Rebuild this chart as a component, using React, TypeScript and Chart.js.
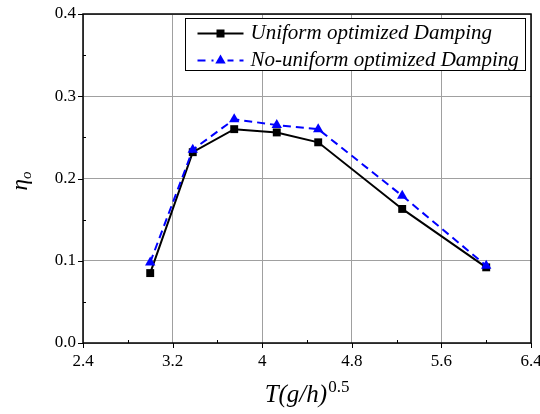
import React, { useEffect, useRef } from 'react';
import { Chart, registerables } from 'chart.js';

Chart.register(...registerables);

// ---- data ----
const xValues = [3.0, 3.38, 3.75, 4.13, 4.5, 5.25, 6.0];
const uniformValues = [0.085, 0.232, 0.26, 0.256, 0.244, 0.163, 0.092];
const nonUniformValues = [0.098, 0.235, 0.272, 0.265, 0.26, 0.179, 0.094];
const seriesNames = ['Uniform optimized Damping', 'No-uniform optimized Damping'];
const xTicks = [2.4, 3.2, 4.0, 4.8, 5.6, 6.4];
const xMinorTicks = [2.8, 3.6, 4.4, 5.2, 6.0];
const yTicks = [0.0, 0.1, 0.2, 0.3, 0.4];
const yMinorTicks = [0.05, 0.15, 0.25, 0.35];
const xTitleMain = 'T(g/h)';
const xTitleSup = '0.5';
const yTitleMain = 'η';
const yTitleSub = 'o';

const SERIF = '"Liberation Serif", "Times New Roman", serif';

const framePlugin = {
  id: 'frame',
  afterDraw(chart: any) {
    const { ctx, chartArea: a, scales } = chart;
    const x = scales.x;
    const y = scales.y;
    ctx.save();
    // frame
    ctx.strokeStyle = '#000';
    ctx.lineWidth = 1.5;
    ctx.strokeRect(a.left, a.top, a.right - a.left, a.bottom - a.top);
    // ticks
    ctx.lineWidth = 1;
    ctx.beginPath();
    xTicks.forEach((v) => {
      const px = Math.round(x.getPixelForValue(v)) + 0.5;
      ctx.moveTo(px, a.bottom);
      ctx.lineTo(px, a.bottom + 5);
    });
    xMinorTicks.forEach((v) => {
      const px = Math.round(x.getPixelForValue(v)) + 0.5;
      ctx.moveTo(px, a.bottom);
      ctx.lineTo(px, a.bottom - 3);
    });
    yTicks.forEach((v) => {
      const py = Math.round(y.getPixelForValue(v)) + 0.5;
      ctx.moveTo(a.left - 5, py);
      ctx.lineTo(a.left, py);
    });
    yMinorTicks.forEach((v) => {
      const py = Math.round(y.getPixelForValue(v)) + 0.5;
      ctx.moveTo(a.left, py);
      ctx.lineTo(a.left + 3, py);
    });
    ctx.stroke();

    ctx.fillStyle = '#000';
    ctx.textBaseline = 'alphabetic';
    ctx.textAlign = 'left';
    // x title
    const mainFont = `italic 25px ${SERIF}`;
    const supFont = `17px ${SERIF}`;
    ctx.font = mainFont;
    const w1 = ctx.measureText(xTitleMain).width;
    ctx.font = supFont;
    const w2 = ctx.measureText(xTitleSup).width;
    const cx = (a.left + a.right) / 2;
    const sx = cx - (w1 + w2 + 1) / 2;
    ctx.font = mainFont;
    ctx.fillText(xTitleMain, sx, 402);
    ctx.font = supFont;
    ctx.fillText(xTitleSup, sx + w1 + 1, 392);

    // y title
    ctx.save();
    ctx.translate(27, 181);
    ctx.rotate(-Math.PI / 2);
    const yMain = `italic 23px ${SERIF}`;
    const ySub = `italic 15px ${SERIF}`;
    ctx.font = yMain;
    const yw1 = ctx.measureText(yTitleMain).width;
    ctx.font = ySub;
    const yw2 = ctx.measureText(yTitleSub).width;
    const ys = -(yw1 + yw2) / 2;
    ctx.font = yMain;
    ctx.fillText(yTitleMain, ys, 0);
    ctx.font = ySub;
    ctx.fillText(yTitleSub, ys + yw1, 4);
    ctx.restore();

    // legend
    const bw = 340;
    const bh = 52;
    const bx = Math.round(a.right - 6 - bw) + 0.5;
    const by = Math.round(a.top + 4) + 0.5;
    ctx.fillStyle = '#fff';
    ctx.fillRect(bx, by, bw, bh);
    ctx.strokeStyle = '#000';
    ctx.lineWidth = 1;
    ctx.strokeRect(bx, by, bw, bh);
    const rows = [by + 15, by + 42];
    // row 1
    ctx.strokeStyle = '#000';
    ctx.lineWidth = 2;
    ctx.setLineDash([]);
    ctx.beginPath();
    ctx.moveTo(bx + 12, rows[0]);
    ctx.lineTo(bx + 58, rows[0]);
    ctx.stroke();
    ctx.fillStyle = '#000';
    ctx.fillRect(bx + 35 - 4, rows[0] - 4, 8, 8);
    // row 2
    ctx.strokeStyle = '#0000ff';
    ctx.setLineDash([8, 6]);
    ctx.beginPath();
    ctx.moveTo(bx + 12, rows[1]);
    ctx.lineTo(bx + 58, rows[1]);
    ctx.stroke();
    ctx.setLineDash([]);
    ctx.fillStyle = '#fff';
    ctx.fillRect(bx + 28, rows[1] - 7, 14, 12);
    ctx.fillStyle = '#0000ff';
    const r = 6;
    ctx.beginPath();
    ctx.moveTo(bx + 35, rows[1] - r);
    ctx.lineTo(bx + 35 + r * 0.866, rows[1] + r / 2);
    ctx.lineTo(bx + 35 - r * 0.866, rows[1] + r / 2);
    ctx.closePath();
    ctx.fill();
    // texts
    ctx.fillStyle = '#000';
    ctx.font = `italic 21px ${SERIF}`;
    ctx.textBaseline = 'middle';
    ctx.fillText(seriesNames[0], bx + 65, rows[0]);
    ctx.fillText(seriesNames[1], bx + 65, rows[1]);
    ctx.restore();
  },
};

export default function App() {
  const ref = useRef<HTMLCanvasElement | null>(null);
  useEffect(() => {
    document.body.style.margin = '0';
    const canvas = ref.current;
    if (!canvas) return;
    const chart = new Chart(canvas, {
      type: 'line',
      data: {
        datasets: [
          {
            label: seriesNames[0],
            data: xValues.map((x, i) => ({ x, y: uniformValues[i] })),
            borderColor: '#000',
            backgroundColor: '#000',
            borderWidth: 2,
            pointStyle: 'rect',
            pointRadius: 5.6,
            pointBorderWidth: 0,
            tension: 0,
            order: 1,
          },
          {
            label: seriesNames[1],
            data: xValues.map((x, i) => ({ x, y: nonUniformValues[i] })),
            borderColor: '#0000ff',
            backgroundColor: '#0000ff',
            borderWidth: 2,
            borderDash: [8, 5],
            pointStyle: 'triangle',
            pointRadius: 6,
            pointBorderWidth: 0,
            tension: 0,
            order: 0,
          },
        ],
      },
      options: {
        responsive: false,
        animation: false,
        layout: { padding: { left: 0, right: 9, top: 14, bottom: 0 } },
        plugins: {
          legend: { display: false },
          tooltip: { enabled: false },
          title: { display: false },
        },
        scales: {
          x: {
            type: 'linear',
            min: 2.4,
            max: 6.4,
            afterBuildTicks: (axis: any) => {
              axis.ticks = xTicks.map((v) => ({ value: v }));
            },
            afterFit: (axis: any) => {
              axis.height = 71;
              axis.paddingLeft = 0;
              axis.paddingRight = 0;
            },
            grid: { color: '#a0a0a0', lineWidth: 1, drawTicks: false },
            border: { display: false },
            ticks: {
              color: '#000',
              font: { family: SERIF, size: 17 },
              padding: 8,
              maxRotation: 0,
              autoSkip: false,
              callback: (v: any) => String(Math.round(Number(v) * 10) / 10),
            },
          },
          y: {
            type: 'linear',
            min: 0,
            max: 0.4,
            afterBuildTicks: (axis: any) => {
              axis.ticks = yTicks.map((v) => ({ value: v }));
            },
            afterFit: (axis: any) => {
              axis.width = 83;
              axis.paddingTop = 0;
              axis.paddingBottom = 0;
            },
            grid: { color: '#a0a0a0', lineWidth: 1, drawTicks: false },
            border: { display: false },
            ticks: {
              color: '#000',
              font: { family: SERIF, size: 17 },
              padding: 7,
              autoSkip: false,
              callback: (v: any) => Number(v).toFixed(1),
            },
          },
        },
      },
      plugins: [framePlugin],
    });
    return () => chart.destroy();
  }, []);
  return (
    <div style={{ width: 540, height: 414 }}>
      <canvas ref={ref} width={540} height={414} />
    </div>
  );
}
